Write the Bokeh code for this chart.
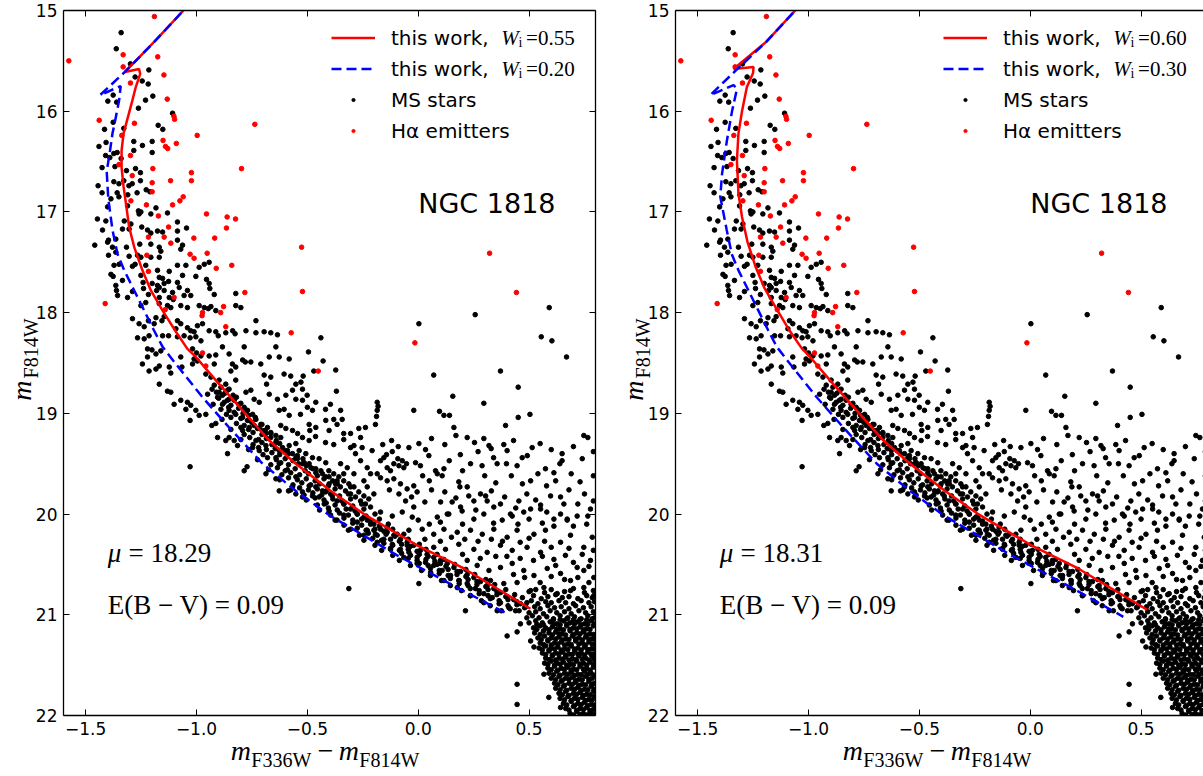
import json
from bokeh.plotting import figure
from bokeh.models import (Range1d, FixedTicker, LinearAxis, CustomJSTickFormatter,
                          Label, Legend, LegendItem)
from bokeh.layouts import row
from bokeh.embed import file_html
from bokeh.resources import INLINE

# ---------------- data ----------------
x_ticks = [-1.5, -1.0, -0.5, 0.0, 0.5]
y_ticks = [15, 16, 17, 18, 19, 20, 21, 22]

# isochrones, left panel (W_i = 0.55 / 0.20)
red_l_x = [-0.98, -1.059, -1.19, -1.323, -1.259, -1.254, -1.274, -1.289, -1.329, -1.338, -1.338, -1.329,
           -1.320, -1.304, -1.281, -1.244, -1.206, -1.153, -1.093, -1.041, -1.003, -0.898, -0.793, -0.672,
           -0.552, -0.394, -0.245, -0.005, 0.206, 0.506]
red_l_y = [14.8, 15.0, 15.31, 15.61, 15.58, 15.63, 15.76, 15.89, 16.22, 16.39, 16.56, 16.75,
           16.89, 17.15, 17.35, 17.58, 17.78, 17.98, 18.19, 18.36, 18.44, 18.71, 18.97, 19.27,
           19.50, 19.77, 20.0, 20.31, 20.54, 20.94]
blue_l_x = [-0.98, -1.059, -1.19, -1.323, -1.435, -1.342, -1.349, -1.364, -1.379, -1.390, -1.405, -1.398,
            -1.379, -1.356, -1.326, -1.281, -1.236, -1.191, -1.153, -1.093, -0.973, -0.853, -0.702, -0.552,
            -0.402, -0.095, 0.176, 0.401]
blue_l_y = [14.8, 15.0, 15.31, 15.61, 15.84, 15.75, 15.89, 16.06, 16.22, 16.39, 16.6, 16.87,
            17.18, 17.42, 17.58, 17.78, 17.98, 18.18, 18.34, 18.51, 18.84, 19.14, 19.50, 19.77,
            20.01, 20.41, 20.73, 20.99]

# isochrones, right panel (W_i = 0.60 / 0.30)
red_r_x = [-0.98, -1.06, -1.19, -1.338, -1.248, -1.25, -1.278, -1.30, -1.316, -1.323, -1.316, -1.300,
           -1.275, -1.238, -1.198, -1.145, -1.085, -1.032, -0.993, -0.888, -0.783, -0.662, -0.542, -0.384,
           -0.235, 0.005, 0.216, 0.527]
red_r_y = [14.8, 15.0, 15.31, 15.58, 15.56, 15.62, 15.76, 16.0, 16.22, 16.49, 16.82, 17.05,
           17.3, 17.55, 17.76, 17.96, 18.18, 18.35, 18.44, 18.71, 18.97, 19.27, 19.50, 19.77,
           20.0, 20.31, 20.54, 20.95]
blue_r_x = [-0.98, -1.06, -1.19, -1.33, -1.443, -1.338, -1.323, -1.345, -1.368, -1.39, -1.398, -1.369,
            -1.346, -1.316, -1.271, -1.226, -1.181, -1.143, -1.083, -0.963, -0.843, -0.692, -0.542, -0.392,
            -0.085, 0.186, 0.42]
blue_r_y = [14.8, 15.0, 15.31, 15.6, 15.84, 15.74, 15.78, 16.0, 16.29, 16.62, 16.85, 17.18,
            17.42, 17.58, 17.78, 17.98, 18.18, 18.34, 18.51, 18.84, 19.14, 19.50, 19.77, 20.01,
            20.41, 20.73, 21.02]

# H-alpha emitters
ha_pts = [(-1.576, 15.50), (-1.19, 15.06), (-1.331, 15.44), (-1.175, 15.46), (-1.331, 15.56), (-1.147, 15.64),
          (-1.298, 15.72), (-1.132, 15.88), (-1.439, 16.09), (-1.102, 16.05), (-1.099, 16.08), (-0.737, 16.13),
          (-1.28, 16.12), (-1.337, 16.24), (-0.997, 16.24), (-1.151, 16.29), (-1.091, 16.32), (-1.14, 16.35),
          (-1.13, 16.37), (-1.298, 16.44), (-1.35, 16.53), (-1.197, 16.57), (-0.797, 16.57), (-1.29, 16.64),
          (-1.023, 16.61), (-1.023, 16.69), (-1.117, 16.69), (-1.2, 16.71), (-1.2, 16.80), (-1.06, 16.85),
          (-1.075, 16.89), (-1.108, 16.93), (-1.226, 16.93), (-1.296, 16.89), (-0.955, 17.02), (-0.862, 17.05),
          (-0.824, 17.07), (-1.172, 17.04), (-0.865, 17.16), (-1.126, 17.15), (-1.217, 17.25), (-1.146, 17.25),
          (-1.012, 17.26), (-0.918, 17.26), (-0.526, 17.35), (-1.116, 17.31), (-1.029, 17.42), (-0.952, 17.41),
          (-1.011, 17.46), (-1.224, 17.43), (-0.911, 17.56), (-0.841, 17.53), (-1.217, 17.59), (-0.782, 17.80),
          (-0.522, 17.79), (-1.101, 17.85), (-1.412, 17.91), (-0.878, 17.94), (-0.973, 18.0), (-0.975, 18.03),
          (-0.891, 18.0), (-1.141, 17.97), (-0.868, 18.14), (-0.573, 18.20), (-0.973, 18.40), (-0.958, 18.53),
          (-0.451, 18.58), (-0.015, 18.30), (0.322, 17.41), (0.443, 17.80)]

# MS stars, by region
ms_top = [(-1.34, 15.22), (-1.362, 15.38), (-1.298, 15.53), (-1.215, 15.59), (-1.277, 15.66), (-1.245, 15.70),
          (-1.218, 15.73), (-1.197, 15.85), (-1.23, 15.89), (-1.376, 15.84), (-1.40, 15.90), (-1.36, 15.91),
          (-1.262, 15.97), (-1.108, 16.02), (-1.173, 16.14), (-1.152, 16.18), (-1.415, 16.18), (-1.328, 16.17),
          (-1.376, 16.11), (-1.283, 16.30), (-1.244, 16.34), (-1.2, 16.30), (-1.44, 16.35), (-1.408, 16.31),
          (-1.283, 16.39), (-1.2, 16.41), (-1.41, 16.44), (-1.373, 16.42), (-1.358, 16.41), (-1.391, 16.46),
          (-1.34, 16.47), (-1.426, 16.56), (-1.368, 16.55), (-1.275, 16.57), (-1.316, 16.59), (-1.253, 16.61),
          (-1.328, 16.69), (-1.373, 16.70), (-1.444, 16.74), (-1.35, 16.72), (-1.305, 16.74), (-1.29, 16.72),
          (-1.253, 16.69), (-1.227, 16.78), (-1.21, 16.80), (-1.426, 16.81), (-1.358, 16.81), (-1.35, 16.85),
          (-1.268, 16.81), (-1.31, 16.83), (-1.386, 16.87)]

ms_upper = [(-1.401, 16.95), (-1.311, 16.94), (-1.262, 16.99), (-1.251, 17.0), (-1.259, 17.02), (-1.206, 17.02),
            (-1.183, 16.96), (-1.131, 17.01), (-1.447, 17.07), (-1.409, 17.09), (-1.326, 17.09), (-1.296, 17.12),
            (-1.247, 17.15), (-1.086, 17.10), (-1.424, 17.18), (-1.334, 17.17), (-1.304, 17.17), (-1.221, 17.18),
            (-1.206, 17.21), (-1.176, 17.19), (-1.153, 17.20), (-1.086, 17.19), (-1.045, 17.16), (-1.397, 17.28),
            (-1.401, 17.30), (-1.364, 17.27), (-1.459, 17.33), (-1.379, 17.35), (-1.316, 17.35), (-1.256, 17.32),
            (-1.206, 17.32), (-1.168, 17.35), (-1.086, 17.28), (-1.063, 17.33), (-1.071, 17.37), (-1.161, 17.39),
            (-1.364, 17.40), (-1.397, 17.43), (-1.304, 17.44), (-1.266, 17.43), (-1.251, 17.45), (-1.206, 17.45),
            (-1.168, 17.45), (-1.349, 17.52), (-1.372, 17.53), (-1.289, 17.54), (-1.277, 17.52), (-1.229, 17.53),
            (-1.086, 17.53), (-1.048, 17.53), (-0.965, 17.52), (-0.943, 17.50), (-1.176, 17.58), (-1.123, 17.59),
            (-0.988, 17.55), (-1.386, 17.62), (-1.376, 17.64), (-1.251, 17.63), (-1.168, 17.65), (-1.153, 17.66),
            (-1.063, 17.63), (-1.003, 17.64), (-1.364, 17.73), (-1.334, 17.68), (-1.241, 17.70), (-1.2, 17.71),
            (-1.176, 17.73), (-1.168, 17.75), (-1.18, 17.78), (-1.146, 17.71), (-1.126, 17.69), (-1.086, 17.70),
            (-1.078, 17.75), (-0.955, 17.67), (-0.943, 17.71), (-0.94, 17.76), (-1.361, 17.78), (-1.289, 17.79),
            (-1.239, 17.76), (-1.146, 17.78), (-1.108, 17.80), (-1.041, 17.78), (-1.026, 17.83), (-1.356, 17.83),
            (-1.311, 17.85), (-1.217, 17.82), (-1.168, 17.85), (-1.123, 17.85), (-1.105, 17.87), (-1.056, 17.83),
            (-0.920, 17.82), (-0.823, 17.81), (-1.251, 17.93), (-1.229, 17.90), (-1.168, 17.91), (-1.131, 17.93),
            (-1.116, 17.95), (-1.071, 17.93), (-1.041, 17.95), (-0.988, 17.93), (-0.965, 17.95), (-0.947, 17.96),
            (-0.935, 17.94), (-0.913, 17.98), (-0.823, 17.93), (-0.8, 17.95), (-1.289, 18.06), (-1.259, 18.11),
            (-1.236, 18.14), (-1.217, 18.08), (-1.191, 18.11), (-1.183, 18.05), (-1.156, 18.08), (-1.146, 18.04),
            (-1.086, 18.08), (-1.071, 18.11), (-1.093, 18.16), (-1.041, 18.15), (-1.026, 18.18), (-1.011, 18.19),
            (-0.996, 18.13), (-0.973, 18.11), (-0.943, 18.18), (-0.913, 18.19), (-0.902, 18.23), (-0.868, 18.20),
            (-0.837, 18.18), (-0.826, 18.21), (-0.777, 18.18), (-0.732, 18.08), (-0.695, 18.19), (-0.665, 18.20),
            (-0.635, 18.22), (-0.732, 18.20)]

ms_mid = [(-1.266, 18.25), (-1.236, 18.26), (-1.214, 18.23), (-1.153, 18.23), (-1.126, 18.23), (-1.086, 18.24),
          (-1.056, 18.23), (-1.029, 18.25), (-1.003, 18.24), (-0.98, 18.28), (-0.642, 18.34), (-0.439, 18.25),
          (-1.221, 18.36), (-1.201, 18.37), (-1.161, 18.38), (-1.221, 18.44), (-1.183, 18.41), (-1.244, 18.51),
          (-1.214, 18.58), (-1.168, 18.53), (-1.183, 18.56), (-1.168, 18.71), (-1.131, 18.78), (-1.116, 18.79),
          (-1.116, 18.60), (-1.071, 18.44), (-1.066, 18.54), (-1.018, 18.36), (-1.0, 18.40), (-0.98, 18.43),
          (-1.011, 18.46), (-0.996, 18.48), (-1.018, 18.51), (-0.943, 18.43), (-0.92, 18.51), (-0.913, 18.42),
          (-0.883, 18.34), (-0.853, 18.41), (-0.838, 18.51), (-0.845, 18.58), (-0.823, 18.54), (-0.785, 18.34),
          (-0.792, 18.47), (-0.78, 18.49), (-0.755, 18.49), (-0.71, 18.51), (-0.672, 18.44), (-0.627, 18.44),
          (-0.582, 18.46), (-0.695, 18.62), (-0.665, 18.64), (-0.684, 18.71), (-0.605, 18.61), (-0.575, 18.63),
          (-0.552, 18.71), (-0.529, 18.69), (-0.495, 18.39), (-0.958, 18.61), (-0.935, 18.64), (-0.898, 18.67),
          (-0.868, 18.71), (-0.853, 18.76), (-0.92, 18.72), (-0.898, 18.79), (-0.883, 18.82), (-0.853, 18.86),
          (-0.83, 18.87), (-0.808, 18.91), (-0.785, 18.94), (-0.77, 18.97), (-0.747, 19.01), (-0.823, 18.67),
          (-0.777, 18.79), (-0.755, 18.77), (-0.74, 18.86), (-0.717, 18.89), (-0.672, 18.81), (-0.635, 18.86),
          (-0.597, 18.82), (-0.567, 18.77), (-0.522, 18.76), (-0.627, 18.97), (-0.605, 18.96), (-0.582, 19.02),
          (-0.552, 18.86), (-0.522, 18.87), (-0.5, 18.94), (-0.477, 18.97), (-0.462, 18.89), (-0.732, 19.06),
          (-0.71, 19.11), (-0.68, 19.14), (-0.702, 19.17), (-0.665, 19.19), (-0.642, 19.22), (-0.62, 19.24),
          (-0.762, 19.14), (-0.732, 19.27), (-0.792, 19.17), (-0.62, 19.12), (-0.597, 19.15), (-0.567, 19.17),
          (-0.544, 19.20), (-0.492, 19.11), (-0.462, 19.14), (-0.417, 19.07), (-0.402, 19.17), (-0.522, 19.24),
          (-0.492, 19.27), (-0.552, 19.30), (-0.582, 19.32), (-0.537, 19.37), (-0.507, 19.40), (-0.477, 19.44),
          (-0.447, 19.45), (-0.417, 19.49), (-0.552, 19.44), (-0.522, 19.50), (-0.484, 19.54), (-0.462, 19.59),
          (-0.432, 19.60), (-0.402, 19.63), (-0.627, 19.50), (-0.642, 19.44), (-0.6, 19.57), (-0.552, 19.63),
          (-0.492, 19.72), (-0.462, 19.73), (-0.432, 19.77), (-0.402, 19.70), (-0.627, 19.77), (-0.585, 19.77),
          (-0.552, 19.80), (-0.522, 19.78), (-0.447, 19.83), (-0.424, 19.90), (-0.402, 19.97), (-0.785, 19.57),
          (-0.772, 19.53), (-0.86, 19.40), (-0.905, 19.24), (-0.868, 19.27), (-0.83, 19.27), (-1.029, 19.53),
          (-1.101, 18.91), (-1.071, 18.87), (-1.041, 18.89), (-1.026, 18.92), (-1.029, 19.07), (-1.003, 18.97),
          (-0.988, 19.02), (-0.958, 19.01), (-0.931, 19.12), (-0.913, 19.10), (-1.048, 18.96), (-1.123, 18.54),
          (-0.905, 18.84), (-0.883, 18.91), (-0.853, 18.97), (-0.823, 19.01), (-0.792, 19.04), (-0.762, 19.07),
          (-0.74, 19.12), (-0.717, 19.15), (-0.687, 19.20), (-0.665, 19.24), (-0.642, 19.29), (-0.612, 19.34),
          (-0.59, 19.37), (-0.567, 19.40), (-0.545, 19.45), (-0.514, 19.49), (-0.492, 19.50), (-0.462, 19.55),
          (-0.439, 19.57), (-0.417, 19.63), (-0.386, 19.67), (-0.687, 19.60), (-0.717, 19.37), (-0.642, 19.65),
          (-0.567, 19.73), (-0.522, 19.83), (-0.477, 19.82), (-0.627, 19.37), (-0.687, 19.32), (-0.747, 19.34),
          (-0.815, 19.32), (-0.853, 19.24)]

ms_band = [(0.591, 17.95), (0.257, 18.02), (0.003, 18.11), (0.555, 18.24), (0.603, 18.28), (0.669, 18.44),
           (-0.429, 18.48), (-0.372, 18.57), (-0.471, 18.58), (0.07, 18.62), (0.371, 18.58), (-0.369, 18.78),
           (0.451, 18.74), (0.156, 18.83), (0.296, 18.90), (-0.02, 18.97), (0.096, 18.98), (0.116, 19.02),
           (0.141, 19.02), (0.451, 19.04), (0.504, 19.01), (0.161, 19.14), (0.394, 19.12), (0.747, 19.22),
           (0.765, 19.24), (-0.185, 18.89), (-0.181, 18.93), (-0.185, 18.97), (-0.188, 19.03), (-0.193, 19.11),
           (-0.35, 18.97), (-0.396, 18.91), (-0.418, 18.96), (-0.519, 18.63), (-0.501, 18.82), (-0.531, 19.01),
           (-0.381, 19.06), (-0.366, 19.11), (-0.343, 19.06), (-0.336, 19.20), (-0.489, 19.17), (-0.463, 19.23),
           (-0.418, 19.29), (-0.381, 19.31), (-0.336, 19.26), (-0.305, 19.20), (-0.268, 19.15), (-0.238, 19.14),
           (-0.26, 19.24), (-0.29, 19.32), (-0.253, 19.34), (-0.208, 19.37), (-0.143, 19.41), (-0.117, 19.38),
           (-0.092, 19.45), (-0.072, 19.47), (-0.053, 19.50), (-0.042, 19.34), (0.003, 19.30), (0.033, 19.36),
           (0.048, 19.42), (-0.012, 19.49), (0.010, 19.52), (0.078, 19.57), (0.116, 19.55), (0.221, 19.24),
           (0.254, 19.29), (0.296, 19.25), (0.319, 19.32), (0.329, 19.35), (0.386, 19.31), (0.401, 19.37),
           (0.446, 19.52), (0.469, 19.44), (0.492, 19.42), (0.514, 19.34), (0.236, 19.50), (0.288, 19.52),
           (0.356, 19.50), (0.398, 19.50), (0.507, 19.67), (0.579, 19.72), (0.574, 19.55), (0.612, 19.59),
           (0.639, 19.50), (0.649, 19.40), (0.649, 19.47), (0.086, 19.60), (0.108, 19.62), (0.183, 19.68),
           (0.188, 19.73), (0.221, 19.73), (0.228, 19.82), (0.281, 19.80), (0.251, 19.87), (0.153, 19.88),
           (0.101, 19.88), (0.131, 20.00), (0.191, 19.93), (0.311, 19.87), (0.304, 19.82), (0.341, 19.93),
           (0.371, 19.90), (0.416, 20.0), (0.454, 19.87), (0.507, 19.95), (0.552, 19.91), (0.597, 19.82),
           (0.642, 19.83), (0.657, 19.90), (0.642, 20.0), (0.672, 20.05), (0.612, 20.05), (0.777, 19.95),
           (0.765, 20.02), (-0.17, 19.47), (-0.155, 19.44), (-0.14, 19.54), (-0.125, 19.57), (-0.11, 19.50),
           (-0.087, 19.52), (-0.065, 19.54), (-0.185, 19.60), (-0.17, 19.64), (-0.14, 19.67), (-0.11, 19.65),
           (-0.08, 19.70), (-0.05, 19.75), (-0.02, 19.72), (-0.005, 19.78), (-0.087, 19.80), (-0.057, 19.87),
           (-0.02, 19.93), (-0.305, 19.34), (-0.283, 19.40), (-0.26, 19.47), (-0.23, 19.54), (-0.215, 19.60),
           (-0.245, 19.67), (-0.23, 19.73), (-0.2, 19.80), (-0.29, 19.60), (-0.32, 19.54), (-0.35, 19.50),
           (-0.336, 19.60), (-0.366, 19.67), (-0.305, 19.73), (-0.268, 19.78), (-0.373, 19.70), (-0.351, 19.73),
           (-0.328, 19.77), (-0.305, 19.80), (-0.283, 19.83), (-0.26, 19.87), (-0.238, 19.90), (-0.215, 19.93),
           (-0.403, 19.57), (-0.381, 19.60), (-0.358, 19.63), (-0.336, 19.67), (-0.313, 19.70), (-0.29, 19.73),
           (-0.245, 19.82), (-0.223, 19.85), (-0.418, 19.78), (-0.388, 19.82), (-0.366, 19.87), (-0.336, 19.90),
           (-0.305, 19.95), (-0.275, 20.0), (-0.245, 20.03)]

ms_extra = [(-0.16, 19.31), (-0.12, 19.27), (-0.09, 19.33), (0.06, 19.25), (0.12, 19.31), (0.17, 19.22),
            (0.19, 19.41), (0.27, 19.38), (0.34, 19.44), (0.43, 19.27), (0.55, 19.30), (0.60, 19.36),
            (0.70, 19.33), (0.74, 19.45), (0.79, 19.38), (0.02, 19.62), (0.05, 19.67), (0.14, 19.47),
            (0.20, 19.57), (0.30, 19.62), (0.35, 19.69), (0.42, 19.62), (0.47, 19.70), (0.54, 19.60),
            (0.62, 19.67), (0.69, 19.60), (0.73, 19.68), (0.79, 19.62), (-0.13, 19.76), (-0.03, 19.83),
            (0.03, 19.88), (0.06, 19.76), (0.12, 19.78), (0.17, 19.84), (0.26, 19.96), (0.33, 19.77),
            (0.39, 19.83), (0.44, 19.94), (0.49, 19.80), (0.53, 19.86), (0.58, 19.98), (0.68, 19.76),
            (0.72, 19.90), (0.75, 19.80), (0.79, 19.87), (0.00, 20.06), (0.05, 20.10), (0.10, 20.08),
            (0.20, 20.10), (0.34, 20.09), (0.45, 20.10), (0.50, 20.05), (0.56, 20.09), (0.70, 20.12),
            (0.76, 20.10), (0.03, 20.25), (0.10, 20.27), (0.15, 20.23), (0.21, 20.25), (0.27, 20.27),
            (0.33, 20.25), (0.38, 20.27), (0.46, 20.28), (0.50, 20.24), (0.57, 20.27), (0.60, 20.33),
            (0.68, 20.34), (0.74, 20.40), (0.79, 20.36), (0.20, 20.40), (0.28, 20.44), (0.35, 20.42),
            (0.40, 20.42), (0.46, 20.44), (0.52, 20.46), (0.56, 20.42), (0.62, 20.51), (0.70, 20.48),
            (0.77, 20.52), (0.43, 20.60), (0.48, 20.63), (0.55, 20.68), (0.60, 20.62), (0.66, 20.65),
            (0.72, 20.63), (0.77, 20.68)]

ms_ribbon = [(-0.93, 18.76), (-0.89, 18.74), (-0.86, 18.77), (-0.95, 18.81), (-0.91, 18.79), (-0.872, 18.80),
             (-0.835, 18.82), (-0.90, 18.85), (-0.86, 18.87), (-0.82, 18.84), (-0.925, 18.91), (-0.875, 18.89),
             (-0.845, 18.92), (-0.80, 18.90), (-0.89, 18.96), (-0.855, 18.94), (-0.81, 18.95), (-0.775, 18.97),
             (-0.865, 19.01), (-0.83, 18.99), (-0.79, 19.00), (-0.765, 19.02), (-0.885, 19.06), (-0.845, 19.04),
             (-0.80, 19.05), (-0.77, 19.07), (-0.735, 19.04), (-0.82, 19.10), (-0.785, 19.12), (-0.75, 19.09),
             (-0.705, 19.11), (-0.845, 19.16), (-0.80, 19.14), (-0.765, 19.16), (-0.725, 19.15), (-0.69, 19.17),
             (-0.785, 19.21), (-0.745, 19.19), (-0.705, 19.21), (-0.665, 19.20), (-0.80, 19.26), (-0.76, 19.24),
             (-0.72, 19.26), (-0.685, 19.25), (-0.64, 19.27), (-0.745, 19.31), (-0.705, 19.29), (-0.66, 19.31),
             (-0.625, 19.30), (-0.765, 19.36), (-0.72, 19.34), (-0.685, 19.36), (-0.645, 19.35), (-0.60, 19.37),
             (-0.70, 19.41), (-0.66, 19.39), (-0.625, 19.41), (-0.585, 19.40), (-0.545, 19.42), (-0.725, 19.46),
             (-0.68, 19.44), (-0.64, 19.46), (-0.60, 19.45), (-0.565, 19.47), (-0.52, 19.45), (-0.665, 19.51),
             (-0.62, 19.49), (-0.585, 19.51), (-0.54, 19.50), (-0.505, 19.52), (-0.675, 19.56), (-0.635, 19.54),
             (-0.59, 19.56), (-0.555, 19.55), (-0.51, 19.57), (-0.475, 19.55), (-0.615, 19.61), (-0.575, 19.59),
             (-0.535, 19.61), (-0.495, 19.60), (-0.455, 19.62), (-0.625, 19.66), (-0.585, 19.64), (-0.545, 19.66),
             (-0.505, 19.65), (-0.465, 19.67), (-0.425, 19.65), (-0.565, 19.71), (-0.525, 19.69), (-0.485, 19.71),
             (-0.445, 19.70), (-0.405, 19.72), (-0.365, 19.70), (-0.575, 19.76), (-0.535, 19.74), (-0.495, 19.76),
             (-0.455, 19.75), (-0.415, 19.77), (-0.375, 19.75), (-0.515, 19.81), (-0.475, 19.79), (-0.435, 19.81),
             (-0.395, 19.80), (-0.355, 19.82), (-0.315, 19.80), (-0.505, 19.86), (-0.465, 19.84), (-0.425, 19.86),
             (-0.385, 19.85), (-0.345, 19.87), (-0.305, 19.85), (-0.455, 19.91), (-0.415, 19.89), (-0.375, 19.91),
             (-0.335, 19.90), (-0.295, 19.92), (-0.255, 19.90), (-0.445, 19.96), (-0.405, 19.94), (-0.365, 19.96),
             (-0.325, 19.95), (-0.285, 19.97), (-0.245, 19.95), (-0.395, 20.01), (-0.355, 19.99), (-0.315, 20.01),
             (-0.275, 20.00), (-0.235, 20.02), (-0.195, 20.00), (-0.375, 20.06), (-0.335, 20.04), (-0.295, 20.06),
             (-0.255, 20.05), (-0.215, 20.07), (-0.175, 20.05), (-0.335, 20.11), (-0.295, 20.09), (-0.255, 20.11),
             (-0.215, 20.10), (-0.175, 20.12), (-0.135, 20.10), (-0.315, 20.16), (-0.275, 20.14), (-0.235, 20.16),
             (-0.195, 20.15), (-0.155, 20.17), (-0.115, 20.15), (-0.265, 20.21), (-0.225, 20.19), (-0.185, 20.21),
             (-0.145, 20.20), (-0.105, 20.22), (-0.065, 20.20), (-0.245, 20.26), (-0.205, 20.24), (-0.165, 20.26),
             (-0.125, 20.25), (-0.085, 20.27), (-0.045, 20.25), (-0.195, 20.31), (-0.155, 20.29), (-0.115, 20.31),
             (-0.075, 20.30), (-0.035, 20.32), (0.005, 20.30), (-0.165, 20.36), (-0.125, 20.34), (-0.085, 20.36),
             (-0.045, 20.35), (-0.005, 20.37), (0.035, 20.35), (-0.115, 20.41), (-0.075, 20.39), (-0.035, 20.41),
             (0.005, 20.40), (0.045, 20.42), (0.085, 20.40), (-0.085, 20.46), (-0.045, 20.44), (-0.005, 20.46),
             (0.035, 20.45), (0.075, 20.47), (0.115, 20.45), (-0.035, 20.51), (0.005, 20.49), (0.045, 20.51),
             (0.085, 20.50), (0.125, 20.52), (0.165, 20.50), (0.015, 20.56), (0.055, 20.54), (0.095, 20.56),
             (0.135, 20.55), (0.175, 20.57), (0.215, 20.55), (0.055, 20.61), (0.095, 20.59), (0.135, 20.61),
             (0.175, 20.60), (0.215, 20.62), (0.255, 20.60), (0.105, 20.66), (0.145, 20.64), (0.185, 20.66),
             (0.225, 20.65), (0.265, 20.67), (0.305, 20.65), (0.145, 20.71), (0.185, 20.69), (0.225, 20.71),
             (0.265, 20.70), (0.305, 20.72), (0.345, 20.70), (0.195, 20.76), (0.235, 20.74), (0.275, 20.76),
             (0.315, 20.75), (0.355, 20.77), (0.395, 20.75), (0.235, 20.81), (0.275, 20.79), (0.315, 20.81),
             (0.355, 20.80), (0.395, 20.82), (0.435, 20.80), (0.285, 20.86), (0.325, 20.84), (0.365, 20.86),
             (0.405, 20.85), (0.445, 20.87), (0.325, 20.91), (0.365, 20.89), (0.405, 20.91), (0.445, 20.90),
             (0.485, 20.92), (0.375, 20.96), (0.415, 20.94), (0.455, 20.96)]

ms_low = [(-0.170, 19.98), (-0.117, 20.02), (-0.072, 19.98), (-0.027, 20.03), (0.086, 20.03), (0.138, 20.0),
          (0.198, 19.97), (0.251, 20.05), (0.296, 20.0), (0.379, 20.06), (0.424, 20.02), (0.476, 19.98),
          (0.552, 19.95), (0.612, 20.12), (0.672, 20.06), (0.717, 20.02), (-0.2, 20.16), (-0.14, 20.13),
          (-0.095, 20.20), (-0.042, 20.16), (0.018, 20.15), (0.07, 20.20), (0.116, 20.15), (0.176, 20.18),
          (0.236, 20.16), (0.289, 20.20), (0.341, 20.15), (0.401, 20.23), (0.446, 20.16), (0.522, 20.20),
          (0.574, 20.16), (0.642, 20.28), (0.687, 20.21), (0.747, 20.33), (0.785, 20.23), (-0.05, 20.31),
          (0.01, 20.36), (0.07, 20.33), (0.123, 20.35), (0.183, 20.30), (0.251, 20.35), (0.311, 20.38),
          (0.371, 20.31), (0.424, 20.36), (0.491, 20.33), (0.552, 20.38), (0.612, 20.45), (0.664, 20.41),
          (0.717, 20.53), (0.777, 20.46), (0.1, 20.49), (0.161, 20.53), (0.221, 20.46), (0.266, 20.51),
          (0.319, 20.56), (0.371, 20.53), (0.424, 20.49), (0.476, 20.56), (0.522, 20.61), (0.582, 20.54),
          (0.642, 20.59), (0.687, 20.66), (0.747, 20.56), (0.792, 20.63), (0.326, 20.66), (0.386, 20.69),
          (0.446, 20.68), (0.507, 20.76), (0.567, 20.73), (0.627, 20.79), (0.687, 20.76), (0.747, 20.73),
          (0.792, 20.81), (-0.230, 20.06), (-0.200, 20.10), (-0.170, 20.15), (-0.140, 20.18), (-0.110, 20.21),
          (-0.080, 20.25), (-0.050, 20.28), (-0.020, 20.31), (0.040, 20.40), (0.070, 20.43), (0.100, 20.46),
          (0.131, 20.49), (0.191, 20.57), (0.221, 20.60), (0.251, 20.63), (0.281, 20.67), (0.311, 20.71),
          (0.341, 20.74), (0.371, 20.78), (0.401, 20.82), (0.431, 20.85), (0.461, 20.89), (-0.230, 20.16),
          (-0.193, 20.20), (-0.155, 20.25), (-0.117, 20.30), (-0.080, 20.35), (-0.042, 20.38), (-0.005, 20.43),
          (0.033, 20.48), (0.070, 20.51), (0.108, 20.56), (0.146, 20.61), (0.183, 20.66), (0.221, 20.69),
          (0.258, 20.74), (0.296, 20.79), (0.334, 20.83), (0.371, 20.88), (0.409, 20.93), (0.439, 20.96),
          (-0.245, 20.21), (-0.185, 20.28), (-0.125, 20.35), (-0.065, 20.43), (-0.005, 20.49), (0.056, 20.58),
          (0.116, 20.66), (0.176, 20.73), (0.236, 20.81), (0.296, 20.88), (0.356, 20.96), (-0.366, 20.06),
          (-0.305, 20.15), (-0.336, 20.01), (-0.275, 20.08), (-0.313, 20.74), (0.003, 20.69), (0.213, 20.96),
          (0.401, 21.21), (0.446, 21.17), (0.461, 21.09), (0.507, 21.26), (0.522, 21.32), (0.446, 21.69),
          (0.446, 21.89), (0.567, 21.59), (0.589, 21.82), (0.642, 21.92)]

ms_blob = [(0.50, 20.77), (0.53, 20.75), (0.57, 20.78), (0.60, 20.75), (0.66, 20.77), (0.70, 20.74), (0.75, 20.78),
           (0.79, 20.76), (0.47, 20.83), (0.52, 20.81), (0.555, 20.84), (0.585, 20.82), (0.62, 20.80), (0.65, 20.83),
           (0.68, 20.82), (0.72, 20.84), (0.76, 20.81), (0.785, 20.83), (0.49, 20.88), (0.51, 20.86), (0.54, 20.89),
           (0.575, 20.87), (0.60, 20.88), (0.635, 20.86), (0.665, 20.88), (0.70, 20.89), (0.735, 20.86), (0.77, 20.88),
           (0.795, 20.87), (0.48, 20.93), (0.525, 20.92), (0.55, 20.94), (0.585, 20.91), (0.615, 20.93), (0.645, 20.92),
           (0.68, 20.94), (0.71, 20.91), (0.745, 20.93), (0.78, 20.92), (0.50, 20.98), (0.53, 20.97), (0.565, 20.99),
           (0.595, 20.96), (0.625, 20.98), (0.66, 20.97), (0.69, 20.99), (0.725, 20.96), (0.755, 20.98), (0.79, 20.97),
           (0.49, 21.03), (0.515, 21.01), (0.545, 21.03), (0.58, 21.02), (0.61, 21.04), (0.64, 21.01), (0.675, 21.03),
           (0.705, 21.02), (0.735, 21.04), (0.765, 21.01), (0.795, 21.03), (0.50, 21.08), (0.53, 21.06), (0.56, 21.08),
           (0.595, 21.07), (0.625, 21.09), (0.655, 21.06), (0.685, 21.08), (0.72, 21.07), (0.75, 21.09), (0.78, 21.06),
           (0.52, 21.13), (0.55, 21.11), (0.575, 21.13), (0.605, 21.12), (0.64, 21.14), (0.67, 21.11), (0.70, 21.13),
           (0.73, 21.12), (0.76, 21.14), (0.79, 21.11), (0.525, 21.18), (0.565, 21.16), (0.59, 21.18), (0.62, 21.17),
           (0.65, 21.19), (0.685, 21.16), (0.715, 21.18), (0.745, 21.17), (0.775, 21.19), (0.54, 21.23), (0.57, 21.21),
           (0.60, 21.23), (0.635, 21.22), (0.665, 21.24), (0.695, 21.21), (0.725, 21.23), (0.755, 21.22), (0.785, 21.24),
           (0.55, 21.28), (0.585, 21.26), (0.615, 21.28), (0.645, 21.27), (0.675, 21.29), (0.71, 21.26), (0.74, 21.28),
           (0.77, 21.27), (0.795, 21.29), (0.545, 21.33), (0.575, 21.31), (0.60, 21.33), (0.63, 21.32), (0.66, 21.34),
           (0.69, 21.31), (0.72, 21.33), (0.75, 21.32), (0.78, 21.34), (0.56, 21.38), (0.59, 21.36), (0.62, 21.38),
           (0.65, 21.37), (0.68, 21.39), (0.705, 21.36), (0.735, 21.38), (0.765, 21.37), (0.79, 21.39), (0.575, 21.43),
           (0.605, 21.41), (0.635, 21.43), (0.665, 21.42), (0.695, 21.44), (0.725, 21.41), (0.755, 21.43), (0.785, 21.42),
           (0.57, 21.48), (0.60, 21.46), (0.625, 21.48), (0.655, 21.47), (0.685, 21.49), (0.715, 21.46), (0.745, 21.48),
           (0.775, 21.47), (0.80, 21.49), (0.585, 21.53), (0.615, 21.51), (0.645, 21.53), (0.675, 21.52), (0.70, 21.54),
           (0.73, 21.51), (0.76, 21.53), (0.79, 21.52), (0.59, 21.58), (0.625, 21.56), (0.66, 21.58), (0.69, 21.57),
           (0.72, 21.59), (0.75, 21.56), (0.78, 21.58), (0.60, 21.63), (0.635, 21.61), (0.665, 21.63), (0.695, 21.62),
           (0.725, 21.64), (0.755, 21.61), (0.785, 21.63), (0.615, 21.68), (0.645, 21.66), (0.68, 21.68), (0.71, 21.67),
           (0.74, 21.69), (0.77, 21.66), (0.795, 21.68), (0.62, 21.73), (0.655, 21.71), (0.69, 21.73), (0.72, 21.72),
           (0.75, 21.74), (0.78, 21.71), (0.635, 21.78), (0.665, 21.76), (0.70, 21.78), (0.73, 21.77), (0.76, 21.79),
           (0.79, 21.76), (0.64, 21.83), (0.675, 21.81), (0.705, 21.83), (0.74, 21.82), (0.77, 21.84), (0.795, 21.81),
           (0.655, 21.88), (0.69, 21.86), (0.72, 21.88), (0.75, 21.87), (0.78, 21.89), (0.665, 21.93), (0.70, 21.91),
           (0.73, 21.93), (0.76, 21.92), (0.79, 21.94), (0.685, 21.98), (0.715, 21.96), (0.745, 21.98), (0.775, 21.97),
           (0.80, 21.99)]

ms_core = [(0.61, 21.045), (0.64, 21.05), (0.67, 21.04), (0.70, 21.05), (0.73, 21.045), (0.76, 21.05), (0.785, 21.04),
           (0.535, 21.095), (0.565, 21.1), (0.61, 21.09), (0.64, 21.1), (0.67, 21.095), (0.705, 21.09), (0.735, 21.1),
           (0.765, 21.095), (0.795, 21.09), (0.535, 21.145), (0.59, 21.15), (0.625, 21.14), (0.655, 21.15),
           (0.685, 21.145), (0.715, 21.14), (0.745, 21.15), (0.775, 21.145), (0.55, 21.195), (0.605, 21.2),
           (0.635, 21.19), (0.665, 21.2), (0.70, 21.195), (0.73, 21.19), (0.76, 21.2), (0.79, 21.195),
           (0.555, 21.245), (0.585, 21.25), (0.62, 21.24), (0.65, 21.25), (0.68, 21.245), (0.71, 21.24),
           (0.74, 21.25), (0.77, 21.245), (0.795, 21.24), (0.565, 21.295), (0.60, 21.3), (0.63, 21.29),
           (0.66, 21.3), (0.69, 21.295), (0.725, 21.29), (0.755, 21.3), (0.785, 21.295), (0.56, 21.345),
           (0.59, 21.35), (0.615, 21.34), (0.645, 21.35), (0.675, 21.345), (0.705, 21.34), (0.735, 21.35),
           (0.765, 21.345), (0.795, 21.34), (0.575, 21.395), (0.605, 21.4), (0.635, 21.39), (0.665, 21.4),
           (0.695, 21.395), (0.72, 21.39), (0.75, 21.4), (0.78, 21.395), (0.59, 21.445), (0.62, 21.45),
           (0.65, 21.44), (0.68, 21.45), (0.71, 21.445), (0.74, 21.44), (0.77, 21.45), (0.795, 21.445),
           (0.585, 21.495), (0.615, 21.5), (0.64, 21.49), (0.67, 21.5), (0.70, 21.495), (0.73, 21.49),
           (0.76, 21.5), (0.79, 21.495), (0.60, 21.545), (0.63, 21.55), (0.66, 21.54), (0.69, 21.55),
           (0.715, 21.545), (0.745, 21.54), (0.775, 21.55), (0.61, 21.595), (0.64, 21.6), (0.675, 21.59),
           (0.705, 21.6), (0.735, 21.595), (0.765, 21.59), (0.795, 21.6), (0.62, 21.645), (0.65, 21.65),
           (0.68, 21.64), (0.71, 21.65), (0.74, 21.645), (0.77, 21.64), (0.63, 21.695), (0.66, 21.7),
           (0.695, 21.69), (0.725, 21.7), (0.755, 21.695), (0.785, 21.69), (0.64, 21.745), (0.67, 21.75),
           (0.705, 21.74), (0.735, 21.75), (0.765, 21.745), (0.795, 21.74), (0.65, 21.795), (0.68, 21.8),
           (0.715, 21.79), (0.745, 21.8), (0.775, 21.795), (0.66, 21.845), (0.69, 21.85), (0.72, 21.84),
           (0.755, 21.85), (0.785, 21.845), (0.67, 21.895), (0.705, 21.9), (0.735, 21.89), (0.765, 21.9),
           (0.795, 21.895), (0.68, 21.945), (0.715, 21.95), (0.745, 21.94), (0.775, 21.95), (0.70, 21.995),
           (0.73, 21.99), (0.76, 21.995), (0.79, 21.99)]

ms_all = ms_top + ms_upper + ms_mid + ms_band + ms_extra + ms_ribbon + ms_low + ms_blob + ms_core
ms_x = [p[0] for p in ms_all]
ms_y = [p[1] for p in ms_all]
ha_x = [p[0] for p in ha_pts]
ha_y = [p[1] for p in ha_pts]

panels = [
    dict(w_red="0.55", w_blue="0.20", mu="18.29", ebv="0.09",
         red_x=red_l_x, red_y=red_l_y, blue_x=blue_l_x, blue_y=blue_l_y),
    dict(w_red="0.60", w_blue="0.30", mu="18.31", ebv="0.09",
         red_x=red_r_x, red_y=red_r_y, blue_x=blue_r_x, blue_y=blue_r_y),
]

SANS = "DejaVu Sans"
SERIF = "Liberation Serif"
PX_PER_UNIT = 221.7


def style_axis(ax, show_labels):
    ax.axis_line_color = "black"
    ax.axis_line_width = 1.3
    ax.major_tick_in = 6
    ax.major_tick_out = 0
    ax.minor_tick_in = 0
    ax.minor_tick_out = 0
    ax.major_tick_line_color = "black"
    ax.major_tick_line_width = 1
    ax.major_label_text_font = SANS
    ax.major_label_text_color = "black"
    if show_labels:
        ax.major_label_text_font_size = "17px"
        ax.major_label_standoff = 6
    else:
        ax.major_label_text_font_size = "0px"
        ax.major_label_standoff = 0
        ax.formatter = CustomJSTickFormatter(code="return ''")


def text_axis(p, side, ticks, labels, size, style, standoff, orientation="horizontal"):
    """An axis without line/ticks whose tick labels carry pieces of the axis title."""
    ax = LinearAxis(ticker=FixedTicker(ticks=ticks),
                    formatter=CustomJSTickFormatter(code="return %s[index];" % json.dumps(labels)))
    ax.axis_line_color = None
    ax.major_tick_line_color = None
    ax.minor_tick_line_color = None
    ax.major_tick_in = 0
    ax.major_tick_out = 0
    ax.minor_tick_in = 0
    ax.minor_tick_out = 0
    ax.major_label_text_font = SERIF
    ax.major_label_text_font_size = size
    ax.major_label_text_font_style = style
    ax.major_label_text_color = "black"
    ax.major_label_standoff = standoff
    ax.major_label_orientation = orientation
    p.add_layout(ax, side)


def lab(p, text, x, y, size, font=SERIF, style="normal"):
    p.add_layout(Label(x=x, y=y, text=text, text_font=font, text_font_size=size,
                       text_font_style=style, text_color="black", text_align="left",
                       text_baseline="alphabetic"))


def make_panel(cfg, frame_w, border_r, right_axis):
    x_end = -1.6 + frame_w / PX_PER_UNIT
    p = figure(x_range=Range1d(-1.6, x_end), y_range=Range1d(22, 15),
               frame_width=frame_w, frame_height=705,
               min_border_left=63, min_border_right=border_r,
               min_border_top=10, min_border_bottom=61,
               output_backend="svg", toolbar_location=None, tools="")
    p.outline_line_color = None
    p.xgrid.visible = False
    p.ygrid.visible = False
    p.background_fill_color = "white"
    p.border_fill_color = "white"

    xa = p.xaxis[0]
    ya = p.yaxis[0]
    xa.ticker = FixedTicker(ticks=x_ticks)
    ya.ticker = FixedTicker(ticks=y_ticks)
    xa.formatter = CustomJSTickFormatter(code="return tick.toFixed(1).replace('-', '\u2212')")
    ya.formatter = CustomJSTickFormatter(code="return tick.toFixed(0)")
    style_axis(xa, True)
    style_axis(ya, True)

    top = LinearAxis(ticker=FixedTicker(ticks=x_ticks))
    style_axis(top, False)
    p.add_layout(top, "above")
    if right_axis:
        rgt = LinearAxis(ticker=FixedTicker(ticks=y_ticks))
        style_axis(rgt, False)
        p.add_layout(rgt, "right")

    # axis titles:  m_F336W - m_F814W  (below)   and   m_F814W (left)
    text_axis(p, "below", [-0.800, -0.4196, -0.3131], ["m", "\u2212", "m"], "28px", "italic", -3)
    text_axis(p, "below", [-0.6176, -0.1305], ["F336W", "F814W"], "20px", "normal", -20)
    text_axis(p, "left", [18.356], ["F814W"], "20px", "normal", -10, "parallel")
    text_axis(p, "left", [18.774], ["m"], "28px", "italic", -20, "parallel")

    r_ms = p.scatter(ms_x, ms_y, marker="circle", size=4.6, color="black")
    r_ha = p.scatter(ha_x, ha_y, marker="circle", size=4.6, color="red")
    r_red = p.line(cfg["red_x"], cfg["red_y"], line_color="red", line_width=2.5)
    r_blue = p.line(cfg["blue_x"], cfg["blue_y"], line_color="blue", line_width=2.5, line_dash="10 5")

    common = dict(orientation="vertical", glyph_height=31, label_height=31, spacing=0, padding=0,
                  margin=0, border_line_color=None, background_fill_alpha=0.0,
                  label_text_font=SANS, label_text_font_size="20px", label_text_color="black")
    leg_lines = Legend(items=[LegendItem(label="this work,", renderers=[r_red]),
                              LegendItem(label="this work,", renderers=[r_blue])],
                       location=(268, 631), glyph_width=44, label_standoff=16, **common)
    leg_dots = Legend(items=[LegendItem(label="MS stars", renderers=[r_ms]),
                             LegendItem(label="H\u03b1 emitters", renderers=[r_ha])],
                      location=(286, 569), glyph_width=8, label_standoff=34, **common)
    p.add_layout(leg_lines)
    p.add_layout(leg_dots)

    # math parts of the legend labels
    for yb, w in ((15.273, cfg["w_red"]), (15.581, cfg["w_blue"])):
        lab(p, "W", 0.375, yb, "21px", style="italic")
        lab(p, "i", 0.4526, yb + 0.04, "14px")
        lab(p, "=" + w, 0.4866, yb, "21px")

    lab(p, "NGC 1818", 0.0, 16.92, "27px", font=SANS)
    lab(p, "\u03bc", -1.40, 20.39, "27px", style="italic")
    lab(p, "= " + cfg["mu"], -1.307, 20.39, "27px")
    lab(p, "E(B \u2212 V) = " + cfg["ebv"], -1.40, 20.90, "27px")
    return p


p1 = make_panel(panels[0], 532, 17, True)
p2 = make_panel(panels[1], 528, 0, False)
layout = row(p1, p2)

open("out.html", "w").write(file_html(layout, INLINE))
